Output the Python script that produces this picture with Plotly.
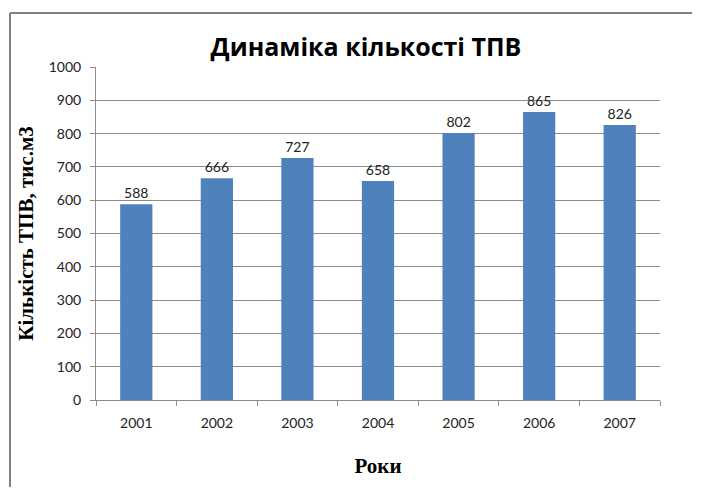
import plotly.graph_objects as go

years = ["2001", "2002", "2003", "2004", "2005", "2006", "2007"]
values = [588, 666, 727, 658, 802, 865, 826]
y_ticks = [0, 100, 200, 300, 400, 500, 600, 700, 800, 900, 1000]

OFF = 8  # default page body margin
VW, VH = 701, 496
W, H = VW - 2 * OFF, VH - 2 * OFF   # avoid scrollbars
L = 96 - OFF
T = 67 - OFF
R = (OFF + W) - 660
B = (OFF + H) - 400
pw, ph = W - L - R, H - T - B

def px_to_paper_x(px):
    return (px - OFF - L) / pw

def px_to_paper_y(py):
    return (H - B - (py - OFF)) / ph

tick_font = dict(family="Lato, Open Sans, sans-serif", size=14, color="#222")

fig = go.Figure(go.Bar(
    x=years, y=values,
    marker=dict(color="#4F81BD", line=dict(width=0)),
    text=[str(v) for v in values],
    textposition="outside",
    textfont=tick_font,
    cliponaxis=False,
))

border = dict(color="#7f7f7f", width=2)
fig.update_layout(
    width=W, height=H,
    margin=dict(l=L, r=R, t=T, b=B),
    paper_bgcolor="white", plot_bgcolor="white",
    bargap=0.6,
    showlegend=False,
    title=dict(text="<b>Динаміка кількості ТПВ</b>", x=(366 - OFF) / W, xanchor="center",
               y=1 - (47 - OFF) / H, yanchor="middle",
               font=dict(family="Open Sans, Liberation Sans, sans-serif", size=25, color="#000")),
    xaxis=dict(
        type="category",
        showline=True, linecolor="#8c8c8c", linewidth=1,
        ticks="outside", tickson="boundaries", ticklen=5, tickcolor="#8c8c8c",
        tickfont=tick_font, ticklabelstandoff=10,
        title=dict(text="<b>Роки</b>", standoff=28,
                   font=dict(family="Liberation Serif, Times New Roman, serif", size=21, color="#000")),
        showgrid=False,
    ),
    yaxis=dict(
        range=[0, 1000], tickvals=y_ticks,
        showline=True, linecolor="#8c8c8c", linewidth=1,
        ticks="outside", ticklen=5, tickcolor="#8c8c8c",
        showgrid=True, gridcolor="#8c8c8c", gridwidth=1,
        zeroline=False,
        tickfont=tick_font, ticklabelstandoff=6,
        title=dict(text="<b>Кількість ТПВ, тис.м3</b>", standoff=9,
                   font=dict(family="Liberation Serif, Times New Roman, serif", size=21, color="#000")),
    ),
    shapes=[
        dict(type="line", xref="paper", yref="paper",
             x0=px_to_paper_x(10), x1=px_to_paper_x(OFF + W - 1),
             y0=px_to_paper_y(13), y1=px_to_paper_y(13), line=border, layer="below"),
        dict(type="line", xref="paper", yref="paper",
             x0=px_to_paper_x(10), x1=px_to_paper_x(10),
             y0=px_to_paper_y(13), y1=px_to_paper_y(OFF + H - 1), line=border, layer="below"),
    ],
)

fig.write_html("out.html")
